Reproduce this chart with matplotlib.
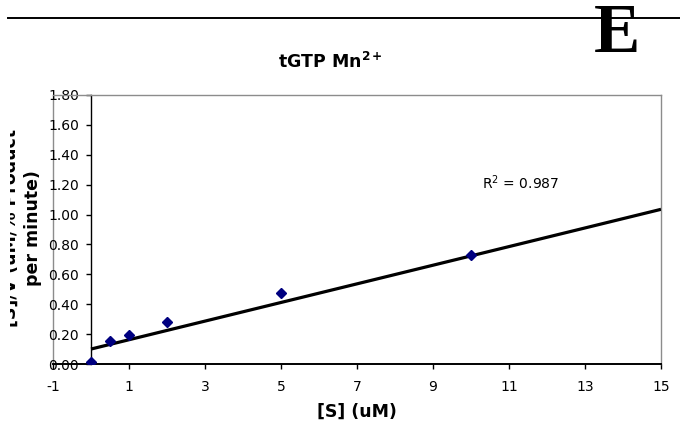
# Lineweaver-type plot, tGTP with Mn2+
import numpy as np
import matplotlib.pyplot as plt
from matplotlib.lines import Line2D
from matplotlib.transforms import Bbox, TransformedBbox

plt.rcParams['axes.unicode_minus'] = False

# data
s_um = [0, 0.5, 1, 2, 5, 10]
s_over_v = [0.012, 0.155, 0.195, 0.284, 0.475, 0.732]
trend_x = [0, 15]
trend_y = [0.10, 1.035]
r_squared = 0.987
x_ticks = [-1, 1, 3, 5, 7, 9, 11, 13, 15]
y_ticks = [0.0, 0.2, 0.4, 0.6, 0.8, 1.0, 1.2, 1.4, 1.6, 1.8]

W, H = 680, 434
fig = plt.figure(figsize=(W / 100, H / 100), dpi=100)
fig.patch.set_facecolor('white')

# plot area in pixels: left 53, right 661, top 95, bottom 364
ax = fig.add_axes([53 / W, 1 - 364 / H, (661 - 53) / W, (364 - 95) / H])

ax.plot(trend_x, trend_y, color='black', linewidth=2.3, solid_capstyle='butt', zorder=3)
ax.plot(s_um, s_over_v, linestyle='none', marker='D', markersize=4.6,
        color='#000080', markeredgecolor='#000080', zorder=4)

ax.set_xlim(-1, 15)
ax.set_ylim(0, 1.8)
ax.set_xticks(x_ticks)
ax.set_yticks(y_ticks)
ax.set_yticklabels(['%.2f' % v for v in y_ticks])

# y axis crosses at x = 0, grey frame around the plot area
ax.spines['left'].set_position(('data', 0))
ax.spines['left'].set_color('black')
ax.spines['left'].set_linewidth(1.0)
ax.spines['bottom'].set_color('black')
ax.spines['bottom'].set_linewidth(1.4)
for side in ['top', 'right']:
    ax.spines[side].set_color('#8c8c8c')
    ax.spines[side].set_linewidth(1.0)
ax.axvline(-1, color='#8c8c8c', linewidth=1.0, clip_on=False, zorder=1)

ax.tick_params(axis='x', direction='out', length=3.6, width=1.0, pad=8,
               labelsize=10, colors='black')
ax.tick_params(axis='y', direction='out', length=3.6, width=1.0, pad=5,
               labelsize=10, colors='black')
for lab in ax.get_yticklabels():
    lab.set_zorder(5)

ax.set_xlabel('[S] (uM)', fontsize=12.5, fontweight='bold', labelpad=6)

ax.text(11.3, 1.21, 'R$^2$ = %.3f' % r_squared, fontsize=10, ha='center', va='center')

# y label, left line is cut off by the image edge in the original
ylab = fig.text(22 / W, 1 - 228 / H, '[S]/V (uM/% Product\nper minute)',
                rotation=90, fontsize=12.5, fontweight='bold',
                ha='center', va='center', linespacing=1.25)
ylab.set_clip_box(TransformedBbox(Bbox([[10 / W, 0], [1, 1]]), fig.transFigure))
ylab.set_clip_on(True)

# title
fig.text(330 / W, 1 - 62 / H, 'tGTP Mn$^{\\mathbf{2+}}$', fontsize=12.5, fontweight='bold',
         ha='center', va='center')

# page rule and panel letter
fig.add_artist(Line2D([8 / W, 1], [1 - 18 / H, 1 - 18 / H], color='black',
                      linewidth=1.4, transform=fig.transFigure))
fig.text(617 / W, 1 - 52 / H, 'E', family='Liberation Serif', fontweight='bold',
         fontsize=50, ha='center', va='baseline')

fig.savefig('out.png', dpi=100)
